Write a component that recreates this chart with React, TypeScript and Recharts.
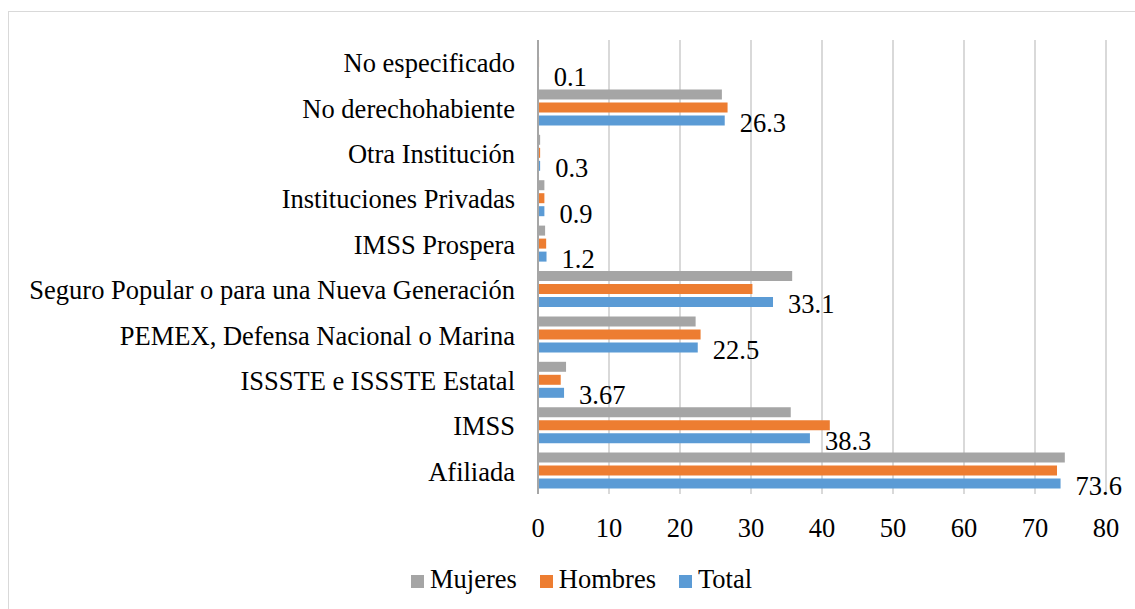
import { BarChart, Bar, XAxis, YAxis, CartesianGrid, Legend, LabelList } from "recharts"

const categories = [
  "No especificado",
  "No derechohabiente",
  "Otra Institución",
  "Instituciones Privadas",
  "IMSS Prospera",
  "Seguro Popular o para una Nueva Generación",
  "PEMEX, Defensa Nacional o Marina",
  "ISSSTE e ISSSTE Estatal",
  "IMSS",
  "Afiliada",
]
const mujeres = [0.05, 25.9, 0.3, 0.9, 1.0, 35.8, 22.2, 3.95, 35.6, 74.2]
const hombres = [0.15, 26.7, 0.3, 0.9, 1.15, 30.2, 22.9, 3.2, 41.1, 73.1]
const total = [0.1, 26.3, 0.3, 0.9, 1.2, 33.1, 22.5, 3.67, 38.3, 73.6]
const xTicks = [0, 10, 20, 30, 40, 50, 60, 70, 80]
const legendOrder = ["Mujeres", "Hombres", "Total"]

const data = categories.map((name, i) => ({
  name,
  mujeres: mujeres[i],
  hombres: hombres[i],
  total: total[i],
}))

const FONT = "Liberation Serif, Tinos, Times New Roman, DejaVu Serif, serif"
const FS = 26.5

export default function App() {
  return (
    <div
      style={{
        position: "absolute",
        left: 0,
        top: 0,
        width: 1135,
        height: 609,
        overflow: "hidden",
        background: "#fff",
        fontFamily: FONT,
      }}
    >
      {/* chart area border */}
      <div
        style={{
          position: "absolute",
          left: 8,
          top: 11,
          width: 1140,
          height: 620,
          border: "1px solid #d9d9d9",
        }}
      />
      <div style={{ position: "absolute", left: 0, top: 0 }}>
        <BarChart
          width={1135}
          height={609}
          data={data}
          layout="vertical"
          margin={{ top: 40, right: 29, left: 0, bottom: 75 }}
          barCategoryGap={4}
          barGap={3}
          style={{ fontFamily: FONT }}
        >
          <CartesianGrid horizontal={false} stroke="#d9d9d9" strokeWidth={2} />
          <XAxis
            type="number"
            domain={[0, 80]}
            ticks={xTicks}
            axisLine={false}
            tickLine={false}
            tickSize={0}
            tickMargin={24}
            height={40}
            tick={{ fill: "#000", fontSize: FS, fontFamily: FONT }}
          />
          <YAxis
            type="category"
            dataKey="name"
            width={538}
            interval={0}
            tickLine={false}
            tickSize={0}
            tickMargin={23}
            axisLine={{ stroke: "#a6a6a6", strokeWidth: 2 }}
            tick={{ fill: "#000", fontSize: FS, fontFamily: FONT }}
          />
          <Legend
            verticalAlign="middle"
            iconType="square"
            iconSize={13}
            itemSorter={(item) => legendOrder.indexOf(String(item.value))}
            wrapperStyle={{ left: 411, top: 564, width: "auto", fontSize: FS, fontFamily: FONT }}
            formatter={(value) => (
              <span style={{ color: "#000", paddingLeft: 2, marginRight: 13 }}>{value}</span>
            )}
          />
          <Bar dataKey="mujeres" name="Mujeres" fill="#a5a5a5" isAnimationActive={false} />
          <Bar dataKey="hombres" name="Hombres" fill="#ed7d31" isAnimationActive={false} />
          <Bar dataKey="total" name="Total" fill="#5b9bd5" isAnimationActive={false}>
            <LabelList
              dataKey="total"
              position="right"
              offset={15}
              fill="#000"
              fontSize={FS}
              fontFamily={FONT}
              dy={2}
            />
          </Bar>
        </BarChart>
      </div>
    </div>
  )
}
